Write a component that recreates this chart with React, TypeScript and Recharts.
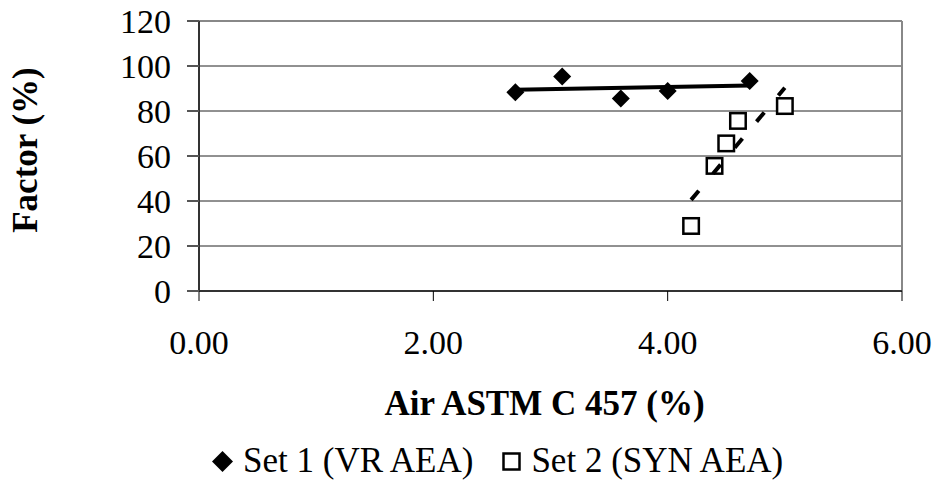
import { ScatterChart, Scatter, XAxis, YAxis, CartesianGrid, ReferenceLine, Legend } from 'recharts'

const set1X = [2.7, 3.1, 3.6, 4.0, 4.7]
const set1Y = [88.3, 95.3, 85.6, 88.9, 93.3]
const set2X = [4.2, 4.4, 4.5, 4.6, 5.0]
const set2Y = [28.9, 55.6, 65.6, 75.6, 82.2]

// trendline end points
const trend1X = [2.7, 4.7]
const trend1Y = [89.4, 91.3]
const trend2X = [4.2, 5.0]
const trend2Y = [40.5, 90.3]

const xTicks = [0, 2, 4, 6]
const yTicks = [0, 20, 40, 60, 80, 100, 120]
const seriesNames = ['Set 1 (VR AEA)', 'Set 2 (SYN AEA)']

const FONT = '"Liberation Serif", "Times New Roman", serif'

const toPoints = (xs: number[], ys: number[]) => xs.map((x, i) => ({ x, y: ys[i] }))

const set1 = toPoints(set1X, set1Y)
const set2 = toPoints(set2X, set2Y)
const trend1 = toPoints(trend1X, trend1Y)
const trend2 = toPoints(trend2X, trend2Y)

function Diamond({ cx, cy }: any) {
  const r = 9
  return <polygon points={`${cx},${cy - r} ${cx + r},${cy} ${cx},${cy + r} ${cx - r},${cy}`} fill="#000" />
}

function Square({ cx, cy }: any) {
  const s = 15.5
  return <rect x={cx - s / 2} y={cy - s / 2} width={s} height={s} fill="#fff" stroke="#000" strokeWidth={2.5} />
}

const NoShape = () => <g />

function XTick({ x, y, payload }: any) {
  return (
    <text x={x} y={y} dy={53} textAnchor="middle" fontFamily={FONT} fontSize={34} fill="#000">
      {Number(payload.value).toFixed(2)}
    </text>
  )
}

function YTick({ x, y, payload }: any) {
  return (
    <text x={x} y={y} dy={12} textAnchor="end" fontFamily={FONT} fontSize={34} fill="#000">
      {payload.value}
    </text>
  )
}

function XTitle({ viewBox }: any) {
  const cx = viewBox.x + viewBox.width / 2 - 6
  return (
    <text x={cx} y={viewBox.y + 124} textAnchor="middle" fontFamily={FONT} fontSize={35} fontWeight={700} fill="#000">
      Air ASTM C 457 (%)
    </text>
  )
}

function YTitle({ viewBox }: any) {
  const cy = viewBox.y + viewBox.height / 2 - 6
  return (
    <text transform="rotate(-90)" x={-cy} y={37} textAnchor="middle" fontFamily={FONT} fontSize={35} fontWeight={700} fill="#000">
      Factor (%)
    </text>
  )
}

function LegendContent({ payload }: any) {
  const items = (payload || []).filter((p: any) => p.type !== 'none')
  return (
    <div style={{ display: 'flex', alignItems: 'center', height: 40, paddingLeft: 212, fontFamily: FONT, fontSize: 35, color: '#000' }}>
      {items.map((item: any, i: number) => (
        <div key={item.value} style={{ display: 'flex', alignItems: 'center', marginLeft: i === 0 ? 0 : 28 }}>
          <svg width={21} height={21} style={{ marginRight: i === 0 ? 10 : 9 }}>
            {i === 0 ? (
              <polygon points="10.5,0 21,10.5 10.5,21 0,10.5" fill="#000" />
            ) : (
              <rect x={2.5} y={2.5} width={16} height={16} fill="#fff" stroke="#000" strokeWidth={2.5} />
            )}
          </svg>
          <span style={{ lineHeight: '40px', whiteSpace: 'nowrap' }}>{item.value}</span>
        </div>
      ))}
    </div>
  )
}

export default function App() {
  return (
    <div style={{ position: 'absolute', left: 0, top: 0, width: 935, height: 481, background: '#fff' }}>
      <ScatterChart width={935} height={481} margin={{ top: 21, right: 33, bottom: 0, left: 0 }}>
        <CartesianGrid horizontal vertical={false} stroke="#222" strokeWidth={1} />
        <XAxis
          type="number"
          dataKey="x"
          domain={[0, 6]}
          ticks={xTicks}
          interval={0}
          height={150}
          tickSize={10}
          tickMargin={0}
          tick={<XTick />}
          axisLine={{ stroke: '#333', strokeWidth: 2 }}
          tickLine={{ stroke: '#000', strokeWidth: 1 }}
          label={<XTitle />}
        />
        <YAxis
          type="number"
          dataKey="y"
          domain={[0, 120]}
          ticks={yTicks}
          interval={0}
          width={199}
          tickSize={12}
          tickMargin={16}
          tick={<YTick />}
          axisLine={{ stroke: '#333', strokeWidth: 2 }}
          tickLine={{ stroke: '#555', strokeWidth: 2 }}
          label={<YTitle />}
        />
        <ReferenceLine y={120} stroke="#888" strokeWidth={2} />
        <ReferenceLine x={6} stroke="#888" strokeWidth={2} />
        <Scatter name={seriesNames[0]} data={set1} shape={<Diamond />} isAnimationActive={false} />
        <Scatter
          name="trend1"
          data={trend1}
          legendType="none"
          shape={<NoShape />}
          line={{ stroke: '#000', strokeWidth: 4 }}
          isAnimationActive={false}
        />
        <Scatter name={seriesNames[1]} data={set2} shape={<Square />} isAnimationActive={false} />
        <Scatter
          name="trend2"
          data={trend2}
          legendType="none"
          shape={<NoShape />}
          line={{ stroke: '#000', strokeWidth: 4, strokeDasharray: '12 22' }}
          isAnimationActive={false}
        />
        <Legend
          verticalAlign="bottom"
          height={40}
          content={<LegendContent />}
          wrapperStyle={{ left: 0, bottom: 0, width: 935, height: 40 }}
        />
      </ScatterChart>
    </div>
  )
}
